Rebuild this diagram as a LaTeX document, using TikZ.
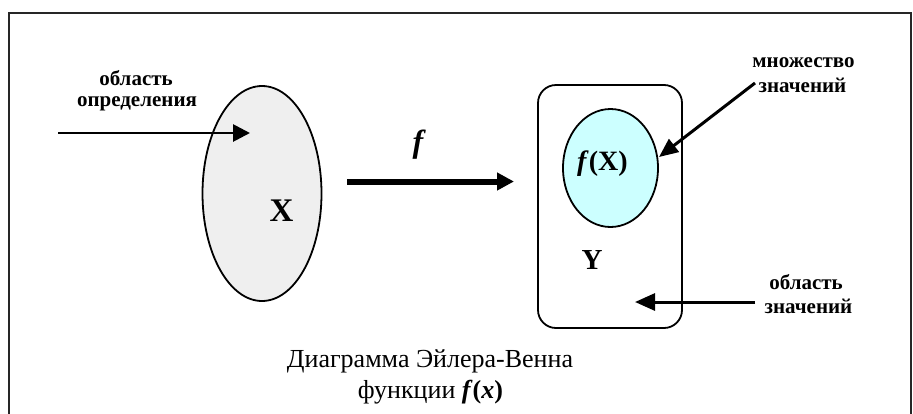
\documentclass[tikz,border=0pt]{standalone}
\usepackage{fontspec}
\setmainfont{Liberation Serif}
\usetikzlibrary{arrows.meta,shapes.geometric}
\definecolor{setgray}{HTML}{EFEFEF}
\definecolor{setcyan}{HTML}{CCFFFF}
\tikzset{
  lbl/.style={font=\bfseries\fontsize{21}{24}\selectfont, anchor=base, inner sep=0pt},
  captext/.style={font=\fontsize{26}{30}\selectfont, anchor=base, inner sep=0pt},
  thinarrow/.style={line width=2.8pt, -{Triangle[length=17pt,width=17pt]}},
  fatarrow/.style={line width=6pt, -{Triangle[length=17pt,width=17pt]}},
  setshape/.style={draw, line width=1.8pt, inner sep=0pt},
}
\begin{document}
\begin{tikzpicture}[x=1pt,y=-1pt]
\useasboundingbox (0,0) rectangle (913,413);
% frame
\draw[line width=1.4pt, black!85] (9,420) -- (9,13) -- (911,13) -- (911,420);
% set X
\node[setshape, ellipse, fill=setgray, minimum width=119pt, minimum height=215pt] (setX) at (262,193.5) {};
\node[font=\bfseries\fontsize{33}{36}\selectfont, anchor=base, inner sep=0pt] (lblX) at (281.5,221) {X};
% domain label and arrow
\node[lbl] (dom1) at (136,85) {область};
\node[lbl] (dom2) at (137,106) {определения};
\coordinate (domS) at (58,133);
\coordinate (domE) at (250,133);
\draw[thinarrow] (domS) -- (domE);
% f arrow
\node[font=\bfseries\itshape\fontsize{32}{36}\selectfont, anchor=base, inner sep=0pt] (lblf) at (418,152) {f};
\coordinate (fS) at (347,181.5);
\coordinate (fE) at (514,181.5);
\draw[fatarrow] (fS) -- (fE);
% set Y
\node[setshape, rectangle, rounded corners=18pt, minimum width=144pt, minimum height=243pt] (setY) at (610,206.5) {};
\node[setshape, ellipse, fill=setcyan, minimum width=95pt, minimum height=118pt] (setfX) at (610.5,168) {};
\node[font=\bfseries\fontsize{28}{32}\selectfont, anchor=base, inner sep=0pt] (lblfX) at (602.5,170) {\textit{f}(X)};
\node[font=\bfseries\fontsize{29}{32}\selectfont, anchor=base, inner sep=0pt] (lblY) at (592,269) {Y};
% image label
\node[lbl] (img1) at (803.5,67) {множество};
\node[lbl] (img2) at (802.5,92) {значений};
\coordinate (imgS) at (755,83);
\coordinate (imgE) at (659,157);
\draw[line width=3pt, -{Triangle[length=19pt,width=16pt]}] (imgS) -- (imgE);
% codomain label
\node[lbl] (cod1) at (806,289) {область};
\node[lbl] (cod2) at (808.5,313) {значений};
\coordinate (codS) at (755,302);
\coordinate (codE) at (635,302);
\draw[line width=3pt, -{Triangle[length=20pt,width=17pt]}] (codS) -- (codE);
% caption
\node[captext] (cap1) at (430,367) {Диаграмма Эйлера-Венна};
\node[captext] (cap2) at (430.5,398) {функции \textbf{\textit{f}(\textit{x})}};
\end{tikzpicture}
\end{document}
